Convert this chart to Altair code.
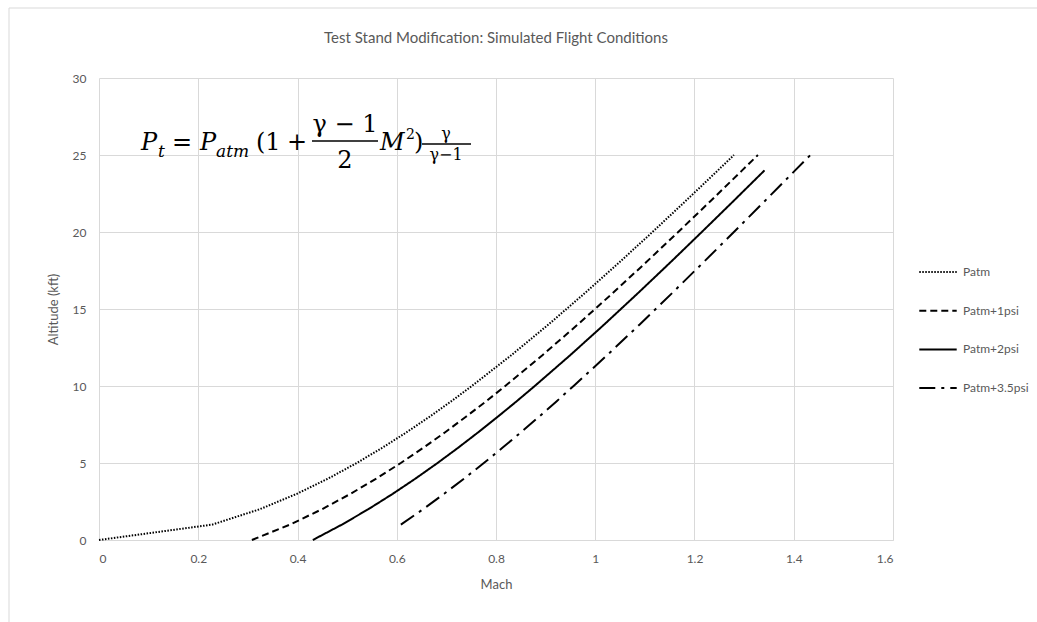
import altair as alt
import pandas as pd

# ---------------- data ----------------
series_names = ["Patm", "Patm+1psi", "Patm+2psi", "Patm+3.5psi"]

alt_patm = [0, 1, 2, 3, 4, 5, 6, 7, 8, 9, 10, 12, 14, 16, 18, 20, 22, 24, 25]
mach_patm = [0.0, 0.2282, 0.3241, 0.3987, 0.4624, 0.5193, 0.5714, 0.6200, 0.6659, 0.7095,
             0.7513, 0.8308, 0.9060, 0.9779, 1.0475, 1.1153, 1.1817, 1.2471, 1.2795]

alt_1psi = [0, 1, 2, 3, 4, 5, 6, 7, 8, 9, 10, 12, 14, 16, 18, 20, 22, 24, 25]
mach_1psi = [0.3081, 0.3847, 0.4494, 0.5069, 0.5593, 0.6081, 0.6540, 0.6976, 0.7394, 0.7797,
             0.8186, 0.8935, 0.9650, 1.0341, 1.1014, 1.1672, 1.2320, 1.2960, 1.3278]

alt_2psi = [0, 1, 2, 3, 4, 5, 6, 7, 8, 9, 10, 12, 14, 16, 18, 20, 22, 24]
mach_2psi = [0.4309, 0.4895, 0.5428, 0.5920, 0.6383, 0.6822, 0.7241, 0.7644, 0.8034, 0.8413,
             0.8781, 0.9495, 1.0183, 1.0851, 1.1505, 1.2147, 1.2782, 1.3411]

alt_35psi = [1, 2, 3, 4, 5, 6, 7, 8, 9, 10, 12, 14, 16, 18, 20, 22, 24, 25]
mach_35psi = [0.6083, 0.6530, 0.6955, 0.7362, 0.7755, 0.8135, 0.8505, 0.8866, 0.9218, 0.9564,
              1.0239, 1.0896, 1.1538, 1.2170, 1.2794, 1.3413, 1.4028, 1.4335]

x_ticks = [0, 0.2, 0.4, 0.6, 0.8, 1.0, 1.2, 1.4, 1.6]
y_ticks = [0, 5, 10, 15, 20, 25, 30]

chart_title = "Test Stand Modification: Simulated Flight Conditions"

rows = []
for name, machs, alts in zip(series_names,
                             [mach_patm, mach_1psi, mach_2psi, mach_35psi],
                             [alt_patm, alt_1psi, alt_2psi, alt_35psi]):
    for m, a in zip(machs, alts):
        rows.append({"series": name, "mach": m, "alt": a})
df = pd.DataFrame(rows)

FONT = "Lato"
SERIF = "DejaVu Serif"
GRAY = "#595959"
GRID = "#d9d9d9"

lines = alt.Chart(df).mark_line(interpolate="linear", strokeWidth=2, color="black").encode(
    x=alt.X("mach:Q",
            scale=alt.Scale(domain=[0, 1.6], nice=False, zero=False),
            axis=alt.Axis(title="Mach", values=x_ticks, format="~g", grid=True,
                          gridColor=GRID, domainColor=GRID, ticks=False,
                          labelPadding=13, titlePadding=14)),
    y=alt.Y("alt:Q",
            scale=alt.Scale(domain=[0, 30], nice=False),
            axis=alt.Axis(title="Altitude (kft)", values=y_ticks, grid=True,
                          gridColor=GRID, domain=False, ticks=False,
                          labelPadding=13, titlePadding=12)),
    strokeDash=alt.StrokeDash(
        "series:N",
        scale=alt.Scale(domain=series_names,
                        range=[[1.5, 1.5], [7, 4], [1, 0], [16, 6, 3, 6]]),
        legend=alt.Legend(title=None, orient="none", legendX=819, legendY=174,
                          symbolType="stroke", symbolSize=1400, symbolStrokeWidth=2,
                          symbolStrokeColor="black", labelFont=FONT, labelFontSize=12,
                          labelColor=GRAY, rowPadding=12.7, labelOffset=5, padding=0)),
)

dummy = alt.Data(values=[{"k": 0}])


def txt(s, x, y, size, italic=False, align="left", font=SERIF, color="black"):
    return alt.Chart(dummy).mark_text(
        text=s, align=align, baseline="alphabetic", fontSize=size, font=font,
        fontStyle="italic" if italic else "normal", color=color
    ).encode(x=alt.value(x), y=alt.value(y))


def bar(x1, x2, y):
    return alt.Chart(dummy).mark_rule(color="black", strokeWidth=1.3).encode(
        x=alt.value(x1), x2=alt.value(x2), y=alt.value(y))


# equation pieces (positions relative to the plot area's top-left corner)
equation = [
    txt("P", 42, 72, 24, italic=True),
    txt("t", 59, 79, 17, italic=True),
    txt("=", 73, 72, 24),
    txt("P", 101, 72, 24, italic=True),
    txt("atm", 117, 79, 17, italic=True),
    txt("(1", 157, 72, 24),
    txt("+", 188, 72, 24),
    txt("γ − 1", 246, 54, 24, align="center"),
    bar(213, 279, 63),
    txt("2", 246, 90, 24, align="center"),
    txt("M", 281, 72, 24, italic=True),
    txt("2", 307, 61, 14),
    txt(")", 315, 72, 24),
    txt("γ", 347, 61, 16, align="center"),
    bar(323, 372, 66),
    txt("γ−1", 347, 82, 16, align="center"),
]

title_mark = txt(chart_title, 397, -35, 15, align="center", font=FONT, color=GRAY)

frame = [
    alt.Chart(dummy).mark_rule(color=GRID, strokeWidth=1).encode(
        x=alt.value(-90), x2=alt.value(960), y=alt.value(-70)),
    alt.Chart(dummy).mark_rule(color=GRID, strokeWidth=1).encode(
        x=alt.value(-90), y=alt.value(-70), y2=alt.value(560)),
]

chart = alt.layer(lines, *equation, title_mark, *frame).properties(
    width=794, height=462,
    autosize=alt.AutoSizeParams(type="none"),
    padding={"left": 99, "top": 78, "right": 144, "bottom": 82},
).configure_view(stroke=None).configure_axis(
    labelFont=FONT, labelFontSize=12, labelColor=GRAY,
    titleFont=FONT, titleFontSize=13, titleColor=GRAY, titleFontWeight="normal",
)

chart.save("out.html", embed_options={"renderer": "svg", "actions": False})
